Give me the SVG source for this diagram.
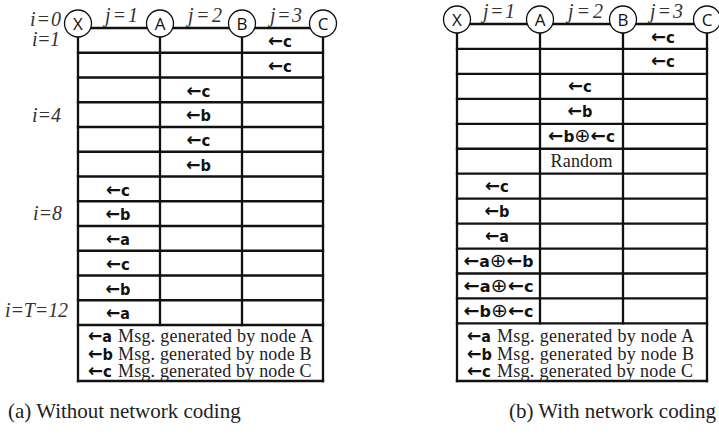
<svg xmlns="http://www.w3.org/2000/svg" width="719" height="434" viewBox="0 0 719 434">
<style>
.bg{fill:#fff}
.grid line{stroke:#111;stroke-width:2.3;stroke-linecap:square}
.conn line{stroke:#111;stroke-width:2.3}
.node circle{fill:#fff;stroke:#111;stroke-width:1.3}
.nl{font-family:"Open Sans","DejaVu Sans",sans-serif;font-size:17px;text-anchor:middle;fill:#111}
.lbl{font-family:"Liberation Serif",serif;font-style:italic;font-size:20px;fill:#333}
.msg{font-family:"DejaVu Sans","Open Sans",sans-serif;font-weight:bold;font-size:15px;text-anchor:middle;fill:#111}
.leg{font-family:"DejaVu Sans","Open Sans",sans-serif;font-weight:bold;font-size:15px;fill:#111}
.ar{font-size:18px}
.op{font-weight:normal;font-size:19px}
.ser{font-family:"Liberation Serif",serif;font-size:18px;fill:#222}
.cap{font-family:"Liberation Serif",serif;font-size:21px;fill:#222}
</style>
<rect class="bg" x="0" y="0" width="719" height="434"/>

<!-- ===== Left table (a) ===== -->
<g id="grid-a" class="grid">
<line x1="78" y1="36" x2="78" y2="381"/>
<line x1="160" y1="36" x2="160" y2="325"/>
<line x1="242" y1="36" x2="242" y2="325"/>
<line x1="323" y1="36" x2="323" y2="381"/>
<line x1="78" y1="52.75" x2="323" y2="52.75"/>
<line x1="78" y1="77.5" x2="323" y2="77.5"/>
<line x1="78" y1="102.25" x2="323" y2="102.25"/>
<line x1="78" y1="127" x2="323" y2="127"/>
<line x1="78" y1="151.75" x2="323" y2="151.75"/>
<line x1="78" y1="176.5" x2="323" y2="176.5"/>
<line x1="78" y1="201.25" x2="323" y2="201.25"/>
<line x1="78" y1="226" x2="323" y2="226"/>
<line x1="78" y1="250.75" x2="323" y2="250.75"/>
<line x1="78" y1="275.5" x2="323" y2="275.5"/>
<line x1="78" y1="300.25" x2="323" y2="300.25"/>
<line x1="78" y1="325" x2="323" y2="325"/>
<line x1="78" y1="381" x2="323" y2="381"/>
</g>
<g id="connectors-a" class="conn">
<line x1="78" y1="28" x2="160" y2="28"/>
<line x1="160" y1="28" x2="242" y2="28"/>
<line x1="242" y1="28" x2="323" y2="28"/>
</g>
<g id="a-node-X" class="node"><circle cx="78" cy="23.5" r="13.5"/><text class="nl" x="78" y="29.5">X</text></g>
<g id="a-node-A" class="node"><circle cx="160" cy="23.5" r="13.5"/><text class="nl" x="160" y="29.5">A</text></g>
<g id="a-node-B" class="node"><circle cx="242" cy="23.5" r="13.5"/><text class="nl" x="242" y="29.5">B</text></g>
<g id="a-node-C" class="node"><circle cx="323" cy="23.5" r="13.5"/><text class="nl" x="323" y="29.5">C</text></g>

<g id="labels-a">
<text class="lbl" x="105" y="21.5" textLength="33">j=1</text>
<text class="lbl" x="188" y="21.5" textLength="34">j=2</text>
<text class="lbl" x="270" y="21.5" textLength="32">j=3</text>
<text class="lbl" x="30" y="26" textLength="31">i=0</text>
<text class="lbl" x="32" y="46" textLength="28">i=1</text>
<text class="lbl" x="32" y="121.5" textLength="29">i=4</text>
<text class="lbl" x="33" y="219.5" textLength="29">i=8</text>
<text class="lbl" x="5" y="317" textLength="63">i=T=12</text>
</g>

<g id="cells-a">
<text class="msg" x="280" y="47" textLength="24" lengthAdjust="spacingAndGlyphs"><tspan class="ar">←</tspan>c</text>
<text class="msg" x="280" y="71.75" textLength="24" lengthAdjust="spacingAndGlyphs"><tspan class="ar">←</tspan>c</text>
<text class="msg" x="198.5" y="96.5" textLength="24" lengthAdjust="spacingAndGlyphs"><tspan class="ar">←</tspan>c</text>
<text class="msg" x="198.5" y="121.25" textLength="25" lengthAdjust="spacingAndGlyphs"><tspan class="ar">←</tspan>b</text>
<text class="msg" x="198.5" y="146" textLength="24" lengthAdjust="spacingAndGlyphs"><tspan class="ar">←</tspan>c</text>
<text class="msg" x="198.5" y="170.75" textLength="25" lengthAdjust="spacingAndGlyphs"><tspan class="ar">←</tspan>b</text>
<text class="msg" x="118" y="195.5" textLength="24" lengthAdjust="spacingAndGlyphs"><tspan class="ar">←</tspan>c</text>
<text class="msg" x="118" y="220.25" textLength="25" lengthAdjust="spacingAndGlyphs"><tspan class="ar">←</tspan>b</text>
<text class="msg" x="118" y="245" textLength="24" lengthAdjust="spacingAndGlyphs"><tspan class="ar">←</tspan>a</text>
<text class="msg" x="118" y="269.75" textLength="24" lengthAdjust="spacingAndGlyphs"><tspan class="ar">←</tspan>c</text>
<text class="msg" x="118" y="294.5" textLength="25" lengthAdjust="spacingAndGlyphs"><tspan class="ar">←</tspan>b</text>
<text class="msg" x="118" y="319.25" textLength="24" lengthAdjust="spacingAndGlyphs"><tspan class="ar">←</tspan>a</text>
</g>

<g id="legend-a">
<text class="leg" x="88" y="342" textLength="24" lengthAdjust="spacingAndGlyphs"><tspan class="ar">←</tspan>a</text>
<text class="ser" x="118" y="342" textLength="195">Msg. generated by node A</text>
<text class="leg" x="88" y="359.5" textLength="25" lengthAdjust="spacingAndGlyphs"><tspan class="ar">←</tspan>b</text>
<text class="ser" x="118" y="359.5" textLength="193.5">Msg. generated by node B</text>
<text class="leg" x="88" y="377" textLength="24" lengthAdjust="spacingAndGlyphs"><tspan class="ar">←</tspan>c</text>
<text class="ser" x="118" y="377" textLength="193.5">Msg. generated by node C</text>
</g>

<!-- ===== Right table (b) ===== -->
<g id="grid-b" class="grid">
<line x1="457" y1="32" x2="457" y2="381"/>
<line x1="540" y1="32" x2="540" y2="323.4"/>
<line x1="623" y1="32" x2="623" y2="323.4"/>
<line x1="707" y1="32" x2="707" y2="381"/>
<line x1="457" y1="48.95" x2="707" y2="48.95"/>
<line x1="457" y1="73.9" x2="707" y2="73.9"/>
<line x1="457" y1="98.85" x2="707" y2="98.85"/>
<line x1="457" y1="123.8" x2="707" y2="123.8"/>
<line x1="457" y1="148.75" x2="707" y2="148.75"/>
<line x1="457" y1="173.7" x2="707" y2="173.7"/>
<line x1="457" y1="198.65" x2="707" y2="198.65"/>
<line x1="457" y1="223.6" x2="707" y2="223.6"/>
<line x1="457" y1="248.55" x2="707" y2="248.55"/>
<line x1="457" y1="273.5" x2="707" y2="273.5"/>
<line x1="457" y1="298.45" x2="707" y2="298.45"/>
<line x1="457" y1="323.4" x2="707" y2="323.4"/>
<line x1="457" y1="381" x2="707" y2="381"/>
</g>
<g id="connectors-b" class="conn">
<line x1="457" y1="24" x2="540" y2="24"/>
<line x1="540" y1="24" x2="623" y2="24"/>
<line x1="623" y1="24" x2="707" y2="24"/>
</g>
<g id="b-node-X" class="node"><circle cx="457" cy="19.5" r="13.5"/><text class="nl" x="457" y="25.5">X</text></g>
<g id="b-node-A" class="node"><circle cx="540" cy="19.5" r="13.5"/><text class="nl" x="540" y="25.5">A</text></g>
<g id="b-node-B" class="node"><circle cx="623" cy="19.5" r="13.5"/><text class="nl" x="623" y="25.5">B</text></g>
<g id="b-node-C" class="node"><circle cx="707" cy="19.5" r="13.5"/><text class="nl" x="707" y="25.5">C</text></g>

<g id="labels-b">
<text class="lbl" x="483" y="17.5" textLength="32">j=1</text>
<text class="lbl" x="568" y="17.5" textLength="35">j=2</text>
<text class="lbl" x="650" y="17.5" textLength="33">j=3</text>
</g>

<g id="cells-b">
<text class="msg" x="663" y="42.5" textLength="24" lengthAdjust="spacingAndGlyphs"><tspan class="ar">←</tspan>c</text>
<text class="msg" x="663" y="67.45" textLength="24" lengthAdjust="spacingAndGlyphs"><tspan class="ar">←</tspan>c</text>
<text class="msg" x="580" y="92.4" textLength="24" lengthAdjust="spacingAndGlyphs"><tspan class="ar">←</tspan>c</text>
<text class="msg" x="580" y="117.35" textLength="25" lengthAdjust="spacingAndGlyphs"><tspan class="ar">←</tspan>b</text>
<text class="msg" x="581.5" y="142.3" textLength="67" lengthAdjust="spacingAndGlyphs"><tspan class="ar">←</tspan>b<tspan class="op">⊕</tspan><tspan class="ar">←</tspan>c</text>
<text class="ser" x="581.5" y="167.25" text-anchor="middle" textLength="62">Random</text>
<text class="msg" x="497" y="192.2" textLength="24" lengthAdjust="spacingAndGlyphs"><tspan class="ar">←</tspan>c</text>
<text class="msg" x="497" y="217.15" textLength="25" lengthAdjust="spacingAndGlyphs"><tspan class="ar">←</tspan>b</text>
<text class="msg" x="497" y="242.1" textLength="24" lengthAdjust="spacingAndGlyphs"><tspan class="ar">←</tspan>a</text>
<text class="msg" x="498.5" y="267.05" textLength="70" lengthAdjust="spacingAndGlyphs"><tspan class="ar">←</tspan>a<tspan class="op">⊕</tspan><tspan class="ar">←</tspan>b</text>
<text class="msg" x="498.5" y="292" textLength="70" lengthAdjust="spacingAndGlyphs"><tspan class="ar">←</tspan>a<tspan class="op">⊕</tspan><tspan class="ar">←</tspan>c</text>
<text class="msg" x="498.5" y="316.95" textLength="70" lengthAdjust="spacingAndGlyphs"><tspan class="ar">←</tspan>b<tspan class="op">⊕</tspan><tspan class="ar">←</tspan>c</text>
</g>

<g id="legend-b">
<text class="leg" x="467" y="342" textLength="24" lengthAdjust="spacingAndGlyphs"><tspan class="ar">←</tspan>a</text>
<text class="ser" x="497" y="342" textLength="197">Msg. generated by node A</text>
<text class="leg" x="467" y="359.5" textLength="25" lengthAdjust="spacingAndGlyphs"><tspan class="ar">←</tspan>b</text>
<text class="ser" x="497" y="359.5" textLength="197">Msg. generated by node B</text>
<text class="leg" x="467" y="377" textLength="24" lengthAdjust="spacingAndGlyphs"><tspan class="ar">←</tspan>c</text>
<text class="ser" x="497" y="377" textLength="196">Msg. generated by node C</text>
</g>

<g id="captions">
<text class="cap" x="8" y="418">(a) Without network coding</text>
<text class="cap" x="716" y="418" text-anchor="end">(b) With network coding</text>
</g>
</svg>
